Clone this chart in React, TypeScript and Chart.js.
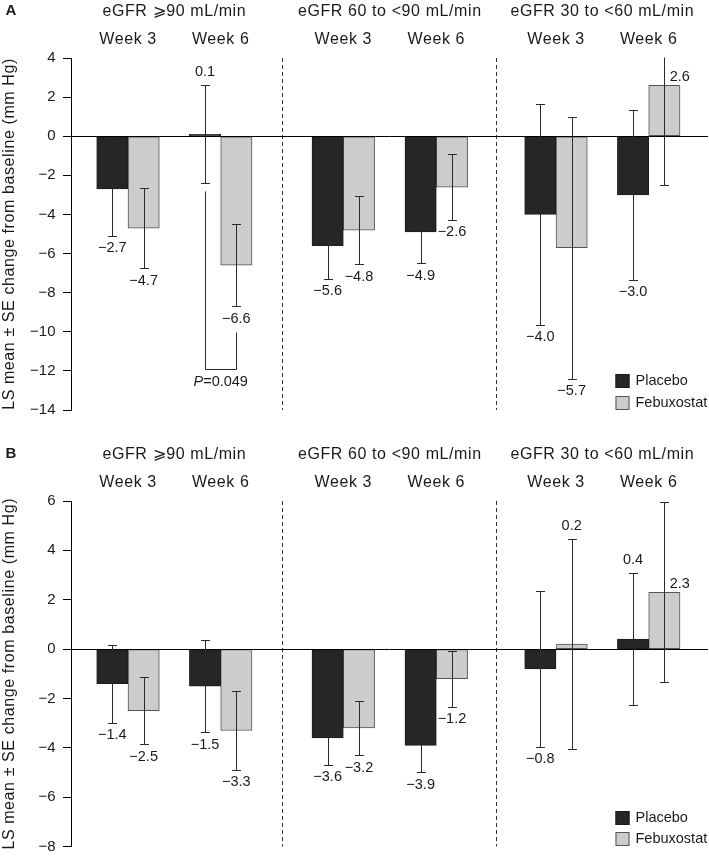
import React, { useEffect, useRef } from 'react';
import { Chart, registerables } from 'chart.js';

Chart.register(...registerables);

// ---------- data ----------
const GROUP_LABELS = ['eGFR ⩾90 mL/min', 'eGFR 60 to <90 mL/min', 'eGFR 30 to <60 mL/min'];
const WEEK_LABELS = ['Week 3', 'Week 6'];
const SERIES_LABELS = ['Placebo', 'Febuxostat'];
const Y_TITLE = 'LS mean ± SE change from baseline (mm Hg)';

// Panel A
const A_PLACEBO = [-2.7, 0.1, -5.6, -4.9, -4.0, -3.0];
const A_PLACEBO_SE = [2.4, 2.5, 1.7, 1.6, 5.65, 4.35];
const A_FEBUXOSTAT = [-4.7, -6.6, -4.8, -2.6, -5.7, 2.6];
const A_FEBUXOSTAT_SE = [2.05, 2.1, 1.75, 1.68, 6.7, 5.1];
const A_Y_RANGE = [-14, 4];
const A_P_TEXT = ['P', '=0.049'];
const A_P_BRACKET = [-2.8, -11.9, -10.0]; // left arm top, bottom, right arm top
const A_P_SLOT = 1;

// Panel B
const B_PLACEBO = [-1.4, -1.5, -3.6, -3.9, -0.8, 0.4];
const B_PLACEBO_SE = [1.58, 1.88, 1.08, 1.09, 3.15, 2.68];
const B_FEBUXOSTAT = [-2.5, -3.3, -3.2, -1.2, 0.2, 2.3];
const B_FEBUXOSTAT_SE = [1.35, 1.59, 1.1, 1.14, 4.24, 3.64];
const B_Y_RANGE = [-8, 6];

const Y_STEP = 2;

// ---------- layout / style ----------
const SLOT_X = [57, 149.7, 272.3, 365.3, 485, 577.7];
const X_MAX = 637;
const BAR_W = 31.3;
const FONT = '"Liberation Sans", Arial, Helvetica, sans-serif';
const TEXT = '#1a1a1a';
const FILLS = ['#262626', '#cccccc'];
const BORDERS = ['#1c1c1c', '#555555'];

const fmt = (v: number) => (v < 0 ? '−' + Math.abs(v).toFixed(1) : v.toFixed(1));

type PanelCfg = {
  letter: string;
  values: number[][];
  se: number[][];
  yRange: number[];
  top: number;
  height: number;
  padding: { top: number; bottom: number };
  bracket?: { levels: number[]; slot: number; text: string[] };
};

function makePlugin(p: PanelCfg) {
  return {
    id: 'deco' + p.letter,
    afterDatasetsDraw(chart: any) {
      const ctx: CanvasRenderingContext2D = chart.ctx;
      const { left, right, top, bottom } = chart.chartArea;
      const xs = chart.scales.x;
      const ys = chart.scales.y;
      const crisp = (v: number) => Math.round(v) + 0.5;
      ctx.save();

      // dashed group dividers
      ctx.strokeStyle = '#333';
      ctx.lineWidth = 1;
      ctx.setLineDash([4, 3]);
      for (let g = 0; g < GROUP_LABELS.length - 1; g++) {
        const xv = (SLOT_X[g * 2 + 1] + SLOT_X[g * 2 + 2]) / 2;
        const px = crisp(xs.getPixelForValue(xv));
        ctx.beginPath();
        ctx.moveTo(px, top);
        ctx.lineTo(px, bottom);
        ctx.stroke();
      }
      ctx.setLineDash([]);

      // zero line
      const y0 = crisp(ys.getPixelForValue(0));
      ctx.strokeStyle = '#000';
      ctx.beginPath();
      ctx.moveTo(left, y0);
      ctx.lineTo(right, y0);
      ctx.stroke();

      // error bars
      ctx.save();
      ctx.beginPath();
      ctx.rect(left, top - 0.5, right - left, bottom - top + 1);
      ctx.clip();
      ctx.strokeStyle = '#2a2a2a';
      chart.data.datasets.forEach((_ds: any, di: number) => {
        const meta = chart.getDatasetMeta(di);
        meta.data.forEach((bar: any, i: number) => {
          const v = p.values[di][i];
          const s = p.se[di][i];
          const cx = crisp(bar.x);
          const yHi = Math.round(ys.getPixelForValue(v + s)) + 0.5;
          const yLo = Math.round(ys.getPixelForValue(v - s)) + 0.5;
          ctx.beginPath();
          ctx.moveTo(cx, yHi);
          ctx.lineTo(cx, yLo);
          if (yHi > top + 1) {
            ctx.moveTo(cx - 4.5, yHi);
            ctx.lineTo(cx + 4.5, yHi);
          }
          ctx.moveTo(cx - 4.5, yLo);
          ctx.lineTo(cx + 4.5, yLo);
          ctx.stroke();
        });
      });
      ctx.restore();

      // value labels
      ctx.fillStyle = TEXT;
      ctx.font = `14.5px ${FONT}`;
      ctx.textBaseline = 'middle';
      chart.data.datasets.forEach((_ds: any, di: number) => {
        const meta = chart.getDatasetMeta(di);
        meta.data.forEach((bar: any, i: number) => {
          const v = p.values[di][i];
          const s = p.se[di][i];
          let lx = bar.x;
          let ly: number;
          if (v < 0) {
            ly = ys.getPixelForValue(v - s) + 12.5;
          } else if (v >= 1) {
            lx = bar.x + 15.5;
            ly = ys.getPixelForValue(v) - 8.5;
          } else {
            ly = ys.getPixelForValue(v + s) - 13;
          }
          ctx.textAlign = 'center';
          ctx.fillText(fmt(v), lx, ly);
        });
      });

      // P-value bracket
      if (p.bracket) {
        const b = p.bracket;
        const m0 = chart.getDatasetMeta(0).data[b.slot];
        const m1 = chart.getDatasetMeta(1).data[b.slot];
        const lx = crisp(m0.x);
        const rx = crisp(m1.x);
        const yL = crisp(ys.getPixelForValue(b.levels[0]));
        const yB = crisp(ys.getPixelForValue(b.levels[1]));
        const yR = crisp(ys.getPixelForValue(b.levels[2]));
        ctx.strokeStyle = '#2a2a2a';
        ctx.beginPath();
        ctx.moveTo(lx, yL);
        ctx.lineTo(lx, yB);
        ctx.lineTo(rx, yB);
        ctx.lineTo(rx, yR);
        ctx.stroke();
        const cx = (m0.x + m1.x) / 2;
        const ty = yB + 12.5;
        ctx.font = `italic 14.5px ${FONT}`;
        const w1 = ctx.measureText(b.text[0]).width;
        ctx.font = `14.5px ${FONT}`;
        const w2 = ctx.measureText(b.text[1]).width;
        const sx = cx - (w1 + w2) / 2;
        ctx.textAlign = 'left';
        ctx.font = `italic 14.5px ${FONT}`;
        ctx.fillText(b.text[0], sx, ty);
        ctx.font = `14.5px ${FONT}`;
        ctx.fillText(b.text[1], sx + w1, ty);
      }

      // legend
      const legX = 615.5;
      const legY = [bottom - 29, bottom - 7.5];
      SERIES_LABELS.forEach((lab, k) => {
        const cy = legY[k];
        ctx.fillStyle = FILLS[k];
        ctx.fillRect(legX, Math.round(cy - 7), 14, 14);
        ctx.strokeStyle = BORDERS[k];
        ctx.strokeRect(legX + 0.5, Math.round(cy - 7) + 0.5, 13, 13);
        ctx.fillStyle = TEXT;
        ctx.font = `14.5px ${FONT}`;
        ctx.textAlign = 'left';
        ctx.textBaseline = 'middle';
        ctx.fillText(lab, legX + 20, cy);
      });

      // headers
      (ctx as any).letterSpacing = '0.6px';
      ctx.font = `16px ${FONT}`;
      ctx.textAlign = 'center';
      ctx.textBaseline = 'middle';
      ctx.fillStyle = TEXT;
      GROUP_LABELS.forEach((g, gi) => {
        const gx = xs.getPixelForValue((SLOT_X[gi * 2] + SLOT_X[gi * 2 + 1]) / 2);
        ctx.fillText(g, gx, top - 46.8);
        WEEK_LABELS.forEach((w, wi) => {
          const wx = xs.getPixelForValue(SLOT_X[gi * 2 + wi]);
          ctx.fillText(w, wx, top - 18.3);
        });
      });

      // y-axis title
      ctx.save();
      ctx.translate(9.5, (top + bottom) / 2);
      ctx.rotate(-Math.PI / 2);
      ctx.fillText(Y_TITLE, 0, 0);
      ctx.restore();

      // panel letter
      (ctx as any).letterSpacing = '0px';
      ctx.font = `bold 15px ${FONT}`;
      ctx.fillText(p.letter, 11, top - 47.3);

      ctx.restore();
    },
  };
}

function Panel({ cfg }: { cfg: PanelCfg }) {
  const ref = useRef<HTMLCanvasElement>(null);
  useEffect(() => {
    if (!ref.current) return;
    const chart = new Chart(ref.current, {
      type: 'bar',
      data: {
        datasets: SERIES_LABELS.map((lab, di) => ({
          label: lab,
          data: cfg.values[di].map((v, i) => ({ x: SLOT_X[i], y: v })),
          backgroundColor: FILLS[di],
          borderColor: BORDERS[di],
          borderWidth: 1,
          borderSkipped: false,
          barThickness: BAR_W,
        })),
      },
      options: {
        animation: false,
        responsive: false,
        layout: { padding: { left: 0, right: 1, top: cfg.padding.top, bottom: cfg.padding.bottom } },
        plugins: { legend: { display: false }, tooltip: { enabled: false } },
        scales: {
          x: { type: 'linear', display: false, min: 0, max: X_MAX, offset: false, grid: { display: false } },
          y: {
            min: cfg.yRange[0],
            max: cfg.yRange[1],
            afterFit: (s: any) => { s.width = 71; },
            ticks: {
              stepSize: Y_STEP,
              padding: 7.5,
              color: TEXT,
              font: { family: FONT, size: 15 },
              callback: (v: any) => String(v).replace('-', '−'),
            },
            grid: { drawOnChartArea: false, drawTicks: true, tickLength: 8, color: '#000', lineWidth: 1 },
            border: { display: true, color: '#000', width: 1 },
          },
        },
      } as any,
      plugins: [makePlugin(cfg)],
    });
    return () => chart.destroy();
  }, []);
  return (
    <div style={{ position: 'absolute', left: 0, top: cfg.top, width: 709, height: cfg.height }}>
      <canvas ref={ref} width={709} height={cfg.height} style={{ display: 'block' }} />
    </div>
  );
}

const PANEL_A: PanelCfg = {
  letter: 'A',
  values: [A_PLACEBO, A_FEBUXOSTAT],
  se: [A_PLACEBO_SE, A_FEBUXOSTAT_SE],
  yRange: A_Y_RANGE,
  top: 0,
  height: 430,
  padding: { top: 58, bottom: 20 },
  bracket: { levels: A_P_BRACKET, slot: A_P_SLOT, text: A_P_TEXT },
};

const PANEL_B: PanelCfg = {
  letter: 'B',
  values: [B_PLACEBO, B_FEBUXOSTAT],
  se: [B_PLACEBO_SE, B_FEBUXOSTAT_SE],
  yRange: B_Y_RANGE,
  top: 430,
  height: 433,
  padding: { top: 71, bottom: 9 },
};

export default function App() {
  return (
    <div style={{ position: 'absolute', left: 0, top: 0, width: 709, height: 863, background: '#fff' }}>
      <Panel cfg={PANEL_A} />
      <Panel cfg={PANEL_B} />
    </div>
  );
}
